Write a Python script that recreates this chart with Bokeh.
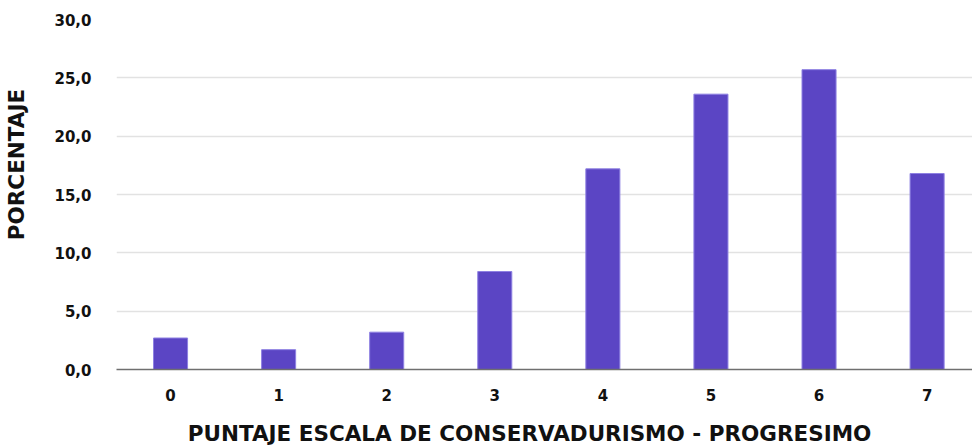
from bokeh.plotting import figure
from bokeh.models import FixedTicker, Range1d
from bokeh.embed import file_html
from bokeh.resources import INLINE

scores = [0, 1, 2, 3, 4, 5, 6, 7]
score_labels = ["0", "1", "2", "3", "4", "5", "6", "7"]
percentages = [2.7, 1.7, 3.2, 8.4, 17.2, 23.6, 25.7, 16.8]
y_ticks = [0, 5, 10, 15, 20, 25, 30]
y_tick_labels = ["0,0", "5,0", "10,0", "15,0", "20,0", "25,0", "30,0"]
x_title = "PUNTAJE ESCALA DE CONSERVADURISMO - PROGRESIMO"
y_title = "PORCENTAJE"

FONT = "DejaVu Sans"
NBSP = "\u00a0"

p = figure(x_range=Range1d(-0.5, 7.42), y_range=Range1d(0, 30), width=972, height=448,
           output_backend="svg", toolbar_location=None,
           min_border_left=116, min_border_right=0, min_border_top=19, min_border_bottom=79)
p.outline_line_color = None
p.background_fill_color = "white"

p.vbar(x=scores, top=percentages, width=0.315, fill_color="#5B45C4",
       line_color="#8E80E2", line_width=1)

p.yaxis.ticker = FixedTicker(ticks=y_ticks)
p.yaxis.major_label_overrides = {t: l for t, l in zip(y_ticks, y_tick_labels)}
p.yaxis.axis_line_color = None
p.yaxis.major_tick_line_color = None
p.yaxis.minor_tick_line_color = None
p.yaxis.major_label_standoff = 19
p.yaxis.axis_label = NBSP * 8 + y_title
p.yaxis.axis_label_standoff = 22

p.xaxis.ticker = FixedTicker(ticks=scores)
p.xaxis.major_label_overrides = {t: l for t, l in zip(scores, score_labels)}
p.xaxis.major_tick_line_color = None
p.xaxis.minor_tick_line_color = None
p.xaxis.axis_line_color = "#6f6f6f"
p.xaxis.axis_line_width = 1.5
p.xaxis.major_label_standoff = 13
p.xaxis.axis_label = x_title + NBSP * 4
p.xaxis.axis_label_standoff = 17

for ax in (p.xaxis, p.yaxis):
    ax.major_label_text_font = FONT
    ax.major_label_text_font_style = "bold"
    ax.major_label_text_font_size = "15px"
    ax.major_label_text_color = "#111111"
    ax.axis_label_text_font = FONT
    ax.axis_label_text_font_style = "bold"
    ax.axis_label_text_font_size = "21.5px"
    ax.axis_label_text_color = "#111111"

p.xgrid.grid_line_color = None
p.ygrid.grid_line_color = "#e2e2e2"
p.ygrid.grid_line_width = 1.5

open("out.html", "w").write(file_html(p, INLINE))
